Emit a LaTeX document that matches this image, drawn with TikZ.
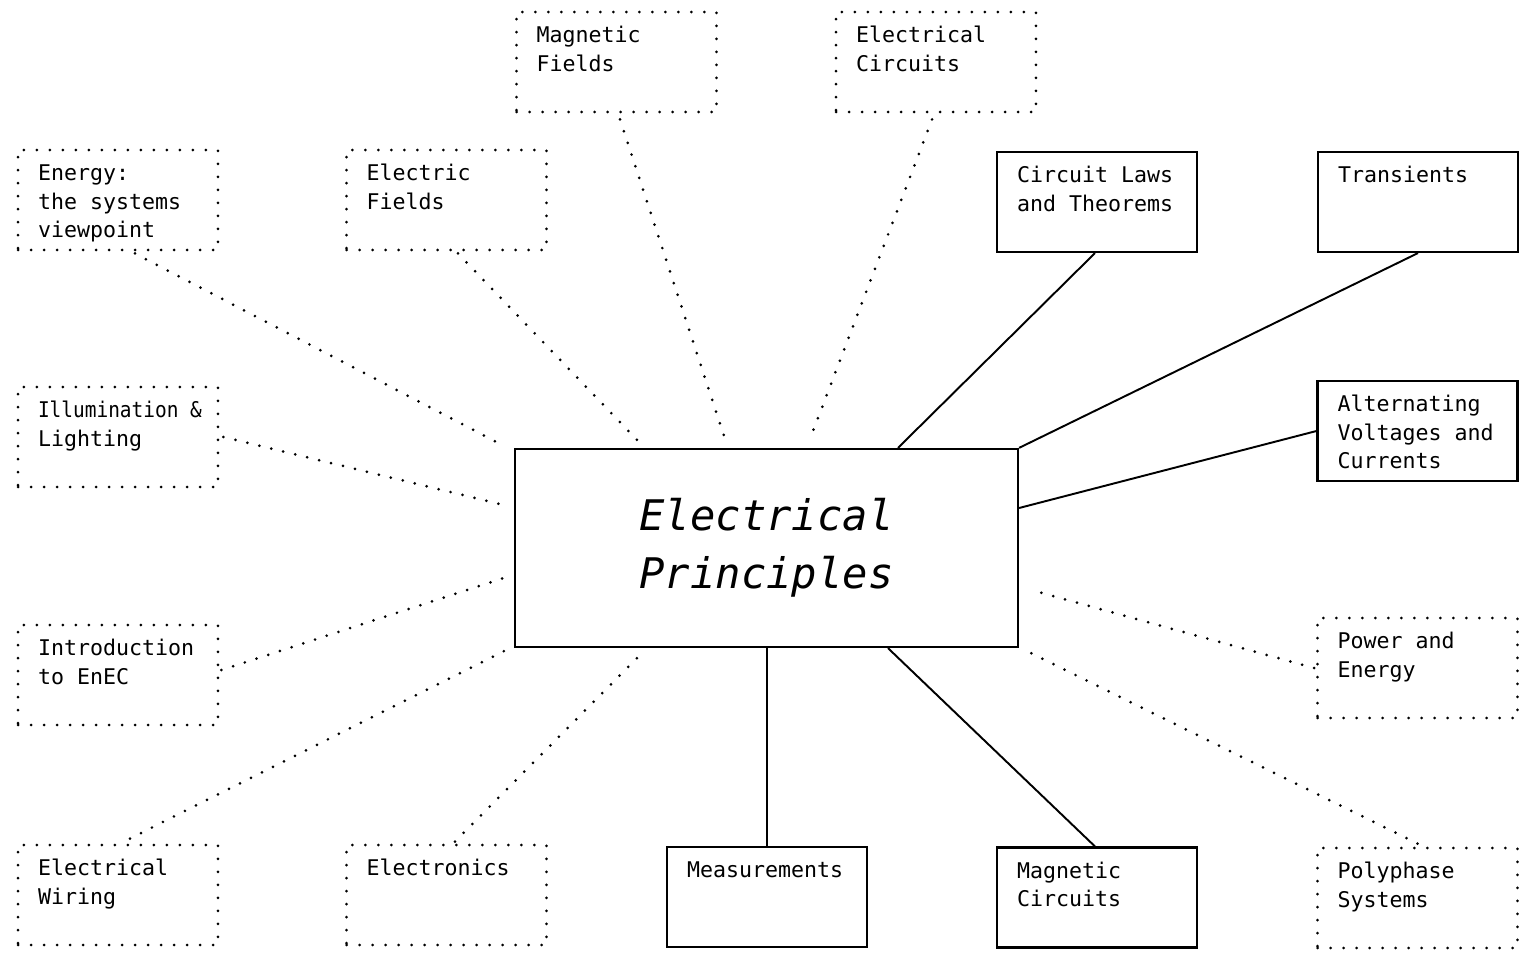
\documentclass[tikz,border=0pt]{standalone}
\usepackage{fontspec}
\newfontfamily\plotfont{DejaVu Sans Mono}
\usetikzlibrary{calc}
\newcommand\bt[1]{\parbox[t][1.56cm][t]{3.2cm}{\begin{tabular}[t]{@{}l@{}}#1\end{tabular}}}
\tikzset{
  boxbase/.style={rectangle, inner xsep=0.4cm, inner ysep=0.22cm,
    font=\plotfont\fontsize{12.3}{16.2}\selectfont},
  solidbox/.style={boxbase, draw, line width=1.2pt},
  dotbox/.style={boxbase, draw, line width=1.7pt, line cap=round,
    dash pattern=on 0pt off 7.4pt},
  solidlink/.style={draw, line width=1.1pt},
  dotlink/.style={draw, line width=1.7pt, line cap=round,
    dash pattern=on 0pt off 7pt},
  centerbox/.style={rectangle, draw, line width=1.3pt, minimum width=10.06cm,
    minimum height=3.96cm, align=left,
    font=\plotfont\itshape\fontsize{24}{33}\selectfont}
}
\begin{document}
\begin{tikzpicture}[x=0.02cm, y=-0.02cm]
\useasboundingbox (0,0) rectangle (1528,953);
% centre
\node[centerbox] (cen) at (766.5,548) {Electrical\\Principles};
% top
\node[dotbox] (magf) at (616.5,62) {\bt{Magnetic\\Fields}};
\node[dotbox] (elcir) at (936,62) {\bt{Electrical\\Circuits}};
\node[dotbox] (energy) at (118,200) {\bt{Energy:\\the systems\\viewpoint}};
\node[dotbox] (elf) at (446.5,200) {\bt{Electric\\Fields}};
\node[solidbox] (claws) at (1097,202) {\bt{Circuit Laws\\and Theorems}};
\node[solidbox] (trans) at (1418,202) {\bt{Transients}};
% middle
\node[dotbox] (illum) at (118,437) {\bt{\scalebox{0.9}[1]{Illumination \&}\\Lighting}};
\node[solidbox] (ac) at (1417.5,431) {\bt{Alternating\\Voltages and\\Currents}};
\node[dotbox] (intro) at (118,675) {\bt{Introduction\\to EnEC}};
\node[dotbox] (power) at (1417.5,668) {\bt{Power and\\Energy}};
% bottom
\node[dotbox] (wiring) at (118,895) {\bt{Electrical\\Wiring}};
\node[dotbox] (elec) at (446.5,895) {\bt{Electronics}};
\node[solidbox] (meas) at (767,897) {\bt{Measurements}};
\node[solidbox] (magc) at (1097,897.5) {\bt{Magnetic\\Circuits}};
\node[dotbox] (poly) at (1417.5,898) {\bt{Polyphase\\Systems}};
% connectors
\path[dotlink] ($(energy.south)+(17,2)$) -- ($(cen.north west)+(-10,-2)$);
\path[dotlink] ($(elf.south)+(11.5,2)$) -- ($(cen.north west)+(125,-6)$);
\path[dotlink] ($(magf.south)+(3.5,6)$) -- ($(cen.north)+(-41.5,-9)$);
\path[dotlink] ($(elcir.south)+(-4,6)$) -- ($(cen.north)+(43.5,-9)$);
\path[solidlink] ($(claws.south)+(-2,0)$) -- ($(cen.north)+(131.5,0)$);
\path[solidlink] (trans.south) -- (cen.north east);
\path[solidlink] (ac.west) -- ($(cen.east)+(0,-40)$);
\path[dotlink] ($(illum.east)+(4,0)$) -- ($(cen.west)+(-10,-43)$);
\path[dotlink] ($(intro.east)+(2,-5)$) -- ($(cen.west)+(-10,30)$);
\path[dotlink] ($(power.west)+(-2,0)$) -- ($(cen.east)+(12,42)$);
\path[dotlink] ($(wiring.north)+(12,-5)$) -- ($(cen.south west)+(-10,3)$);
\path[dotlink] ($(elec.north)+(8.5,-2)$) -- ($(cen.south west)+(125,8)$);
\path[solidlink] (meas.north) -- (meas.north |- cen.south);
\path[solidlink] ($(magc.north)+(-2,0)$) -- ($(cen.south)+(121.5,0)$);
\path[dotlink] ($(poly.north)+(0,-3)$) -- ($(cen.south east)+(12,5)$);
\end{tikzpicture}
\end{document}
